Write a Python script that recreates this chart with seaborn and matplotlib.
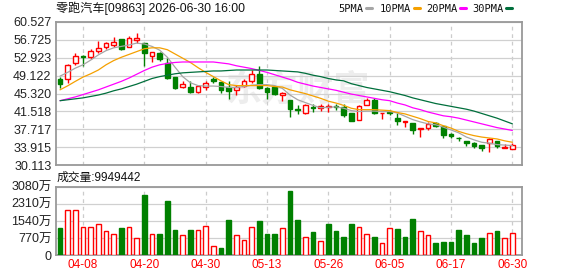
import numpy as np
import matplotlib
matplotlib.use("Agg")
import matplotlib.pyplot as plt
from matplotlib.lines import Line2D
import seaborn as sns

# Daily K-line for 零跑汽车 (09863), 60 trading days
dates = ["03-31", "04-01", "04-02", "04-08", "04-09", "04-10", "04-13", "04-14", "04-15", "04-16",
         "04-17", "04-20", "04-21", "04-22", "04-23", "04-24", "04-27", "04-28", "04-29", "04-30",
         "05-04", "05-05", "05-06", "05-07", "05-08", "05-11", "05-12", "05-13", "05-14", "05-15",
         "05-18", "05-19", "05-20", "05-21", "05-22", "05-26", "05-27", "05-28", "05-29", "06-01",
         "06-02", "06-03", "06-04", "06-05", "06-08", "06-09", "06-10", "06-11", "06-12", "06-15",
         "06-16", "06-17", "06-18", "06-22", "06-23", "06-24", "06-25", "06-26", "06-29", "06-30"]

opens = [48.4, 48.4, 51.7, 53.3, 53.1, 54.4, 55.25, 55.5, 56.8, 55.25,
         56.7, 56.0, 53.3, 53.85, 51.7, 48.8, 46.7, 46.8, 45.7, 46.7,
         48.4, 47.7, 46.8, 46.0, 46.95, 47.9, 49.5, 46.5, 46.8, 45.05,
         44.0, 42.0, 41.2, 42.4, 42.3, 42.4, 42.6, 42.4, 41.2, 39.8,
         42.9, 44.0, 41.1, 41.5, 40.1, 39.2, 39.1, 37.8, 38.0, 39.1,
         38.5, 36.75, 35.95, 35.3, 34.84, 34.48, 34.84, 35.18, 33.8, 33.6]
highs = [48.9, 51.5, 53.8, 53.4, 54.7, 56.5, 56.3, 57.2, 56.9, 57.4,
         58.1, 56.0, 54.1, 54.1, 52.8, 48.8, 47.9, 48.0, 47.2, 47.9,
         48.9, 47.7, 47.9, 47.2, 48.3, 50.3, 51.1, 46.6, 47.0, 45.7,
         44.0, 42.8, 43.0, 43.2, 43.2, 43.0, 43.0, 43.1, 41.2, 42.9,
         44.35, 44.3, 41.3, 41.9, 41.2, 39.4, 39.1, 38.1, 39.2, 39.3,
         38.5, 37.0, 36.2, 35.3, 34.97, 34.5, 35.9, 35.2, 34.6, 34.8]
lows = [46.5, 47.5, 51.4, 51.2, 52.6, 53.9, 54.7, 55.25, 54.5, 55.1,
        56.1, 51.2, 52.1, 52.2, 48.4, 46.2, 46.5, 45.5, 45.5, 46.1,
        47.5, 45.5, 44.1, 45.0, 46.7, 47.5, 46.2, 44.1, 45.0, 43.8,
        40.3, 41.0, 40.9, 41.5, 41.7, 41.5, 41.9, 40.4, 39.4, 39.8,
        42.9, 40.9, 39.9, 40.8, 38.7, 38.3, 36.75, 36.2, 37.6, 38.3,
        36.0, 36.0, 35.2, 34.3, 33.8, 33.2, 32.9, 33.8, 33.8, 33.6]
closes = [47.3, 51.4, 53.3, 53.0, 54.3, 55.0, 56.1, 56.3, 54.7, 57.15,
          57.0, 54.0, 54.1, 52.65, 48.6, 46.5, 47.3, 45.7, 46.95, 47.5,
          47.9, 46.0, 45.95, 46.8, 48.0, 49.5, 46.5, 45.7, 45.2, 45.4,
          42.0, 41.8, 42.8, 42.2, 42.7, 42.6, 42.4, 40.8, 39.4, 42.7,
          44.0, 41.2, 41.3, 41.3, 39.4, 39.4, 37.5, 38.0, 38.9, 38.5,
          36.6, 36.24, 35.85, 34.84, 34.3, 33.8, 35.75, 34.13, 33.9, 34.35]

ma5 = [49.0, 49.8, 50.7, 51.4, 52.4, 53.5, 54.4, 55.0, 55.3, 55.6,
       56.0, 55.8, 55.3, 54.5, 53.0, 50.9, 48.9, 47.6, 47.0, 46.9,
       46.9, 46.8, 46.6, 46.6, 46.8, 47.1, 47.2, 47.2, 47.0, 46.4,
       45.0, 44.0, 43.4, 42.8, 42.3, 42.4, 42.5, 42.2, 41.7, 41.5,
       41.6, 41.6, 41.5, 41.5, 41.2, 40.5, 39.8, 39.3, 38.9, 38.7,
       38.2, 37.6, 37.0, 36.1, 35.5, 35.0, 34.8, 34.5, 34.4, 34.3]
ma10 = [46.1, 46.95, 47.9, 48.8, 49.5, 50.3, 51.4, 52.3, 53.0, 53.6,
        54.2, 54.8, 55.0, 55.0, 54.6, 53.7, 52.8, 51.9, 50.8, 49.8,
        48.9, 48.0, 47.2, 47.0, 47.0, 47.0, 47.0, 47.0, 46.8, 46.7,
        46.1, 45.7, 45.3, 44.8, 44.3, 43.7, 43.3, 42.8, 42.2, 41.9,
        41.9, 41.9, 41.8, 41.7, 41.3, 41.0, 40.5, 40.0, 39.4, 39.1,
        38.5, 38.0, 37.3, 36.8, 36.4, 36.1, 35.9, 35.7, 35.3, 35.0]
ma20 = [43.8, 44.2, 44.6, 45.1, 45.6, 46.1, 46.7, 47.3, 47.9, 48.6,
        49.4, 50.2, 50.9, 51.4, 51.7, 51.9, 52.0, 52.0, 52.0, 52.0,
        52.0, 51.8, 51.6, 51.2, 50.9, 50.6, 50.2, 49.8, 49.3, 48.8,
        48.3, 47.7, 47.3, 46.9, 46.6, 46.3, 46.0, 45.6, 45.2, 44.9,
        44.6, 44.3, 44.0, 43.8, 43.3, 42.9, 42.3, 41.9, 41.4, 41.0,
        40.6, 40.4, 40.1, 39.7, 39.3, 38.9, 38.5, 38.1, 37.8, 37.5]
ma30 = [43.8, 44.0, 44.2, 44.4, 44.7, 45.0, 45.4, 45.9, 46.3, 46.8,
        47.3, 47.9, 48.5, 48.9, 49.2, 49.5, 49.7, 49.8, 49.9, 50.0,
        50.1, 50.1, 50.2, 50.3, 50.3, 50.3, 50.3, 50.3, 50.2, 50.1,
        50.0, 49.9, 49.6, 49.2, 48.9, 48.5, 48.2, 48.0, 47.4, 47.0,
        46.6, 46.3, 46.0, 45.7, 45.3, 44.9, 44.4, 44.0, 43.6, 43.2,
        42.9, 42.6, 42.3, 42.0, 41.6, 41.1, 40.6, 40.1, 39.5, 38.9]

# volume in 万股, and bar colour (R = up, G = down)
volume = [1238, 2032, 2032, 1256, 1256, 1390, 1090, 942, 1238, 1256,
          762, 2704, 942, 942, 2435, 1135, 897, 1135, 1135, 1314,
          404, 341, 1583, 897, 686, 1256, 1538, 942, 942, 1211,
          2884, 1583, 807, 1045, 641, 1404, 1090, 807, 1404, 1256,
          942, 807, 538, 1211, 1179, 807, 1628, 1090, 897, 538,
          596, 596, 1135, 911, 538, 762, 987, 1090, 762, 995]
vol_dir = "GRRRRRRRGR" "RGRGGGRGRR" "RGGRRRGGGR" "GGRGRGGGGR" "RGRRGGGRRG" "GGGGGGRGRR"

price_ticks = [30.113, 33.915, 37.717, 41.518, 45.320, 49.122, 52.923, 56.725, 60.527]
vol_ticks = [0, 770, 1540, 2310, 3080]
vol_tick_labels = ["0", "770万", "1540万", "2310万", "3080万"]
last_volume = 9949442
title = "零跑汽车[09863] 2026-06-30 16:00"
ma_names = ["5PMA", "10PMA", "20PMA", "30PMA"]
ma_colors = ["#a6a6a6", "#f5a000", "#ff00ff", "#006f3c"]

RED = "#ff0000"
GREEN = "#008000"

sns.set_theme(style="white")
plt.rcParams["font.family"] = ["Liberation Sans", "Noto Sans CJK SC"]

W, H = 578, 276
fig = plt.figure(figsize=(W / 100, H / 100), dpi=100)
ax = fig.add_axes([0.0964, 0.401, 0.8073, 0.5203])
axv = fig.add_axes([0.0964, 0.075, 0.8073, 0.2486])

x = np.arange(len(dates))
o = np.array(opens)
c = np.array(closes)
up = c >= o

# candles
for i in x:
    col = RED if up[i] else GREEN
    ax.vlines(i, lows[i], highs[i], color=col, lw=1, zorder=2)
    bottom = min(o[i], c[i])
    h = max(abs(c[i] - o[i]), 0.05)
    ax.bar(i, h, bottom=bottom, width=0.62, color="white" if up[i] else col,
           edgecolor=col, linewidth=1, zorder=3)

for vals, col in zip([ma5, ma10, ma20, ma30], ma_colors):
    sns.lineplot(x=x, y=vals, ax=ax, color=col, linewidth=0.9, zorder=4)

ax.text(0.52, 0.52, "东方财富", transform=ax.transAxes, ha="center", va="center",
        fontsize=26, fontweight="bold", color="#ededed", zorder=0.5)

# volume bars
for i in x:
    col = RED if vol_dir[i] == "R" else GREEN
    axv.bar(i, volume[i], width=0.62, color="white" if vol_dir[i] == "R" else col,
            edgecolor=col, linewidth=1, zorder=3)

tick_idx = x[3::8]
for a in (ax, axv):
    a.set_xlim(-0.56, 60.3)
    a.set_xticks(tick_idx)
    a.grid(False)
    a.xaxis.grid(True, color="#cccccc", linestyle=(0, (3, 3)), linewidth=0.9, zorder=0)
    a.yaxis.grid(True, color="#d0d0d0", linestyle="-", linewidth=0.9, zorder=0)
    a.set_axisbelow(True)
    for s in a.spines.values():
        s.set_color("#999999")
        s.set_linewidth(1.3)
    a.tick_params(length=0, labelsize=9, labelcolor="#222222", pad=3)
    a.set_xlabel("")
    a.set_ylabel("")

ax.set_ylim(price_ticks[0], price_ticks[-1])
ax.set_yticks(price_ticks)
ax.set_yticklabels([f"{t:.3f}" for t in price_ticks])
ax.set_xticklabels([])

axv.set_ylim(0, vol_ticks[-1])
axv.set_yticks(vol_ticks)
axv.set_yticklabels(vol_tick_labels)
axv.set_xticklabels([dates[i] for i in tick_idx], color=RED, fontsize=8.5)

fig.text(56 / W, 1 - 8.5 / H, title, fontsize=8.7, color="#111111", va="center", ha="left")
fig.text(57 / W, 1 - 178 / H, f"成交量:{last_volume}", fontsize=8.5, color="#111111",
         va="center", ha="left")

# legend row: name followed by a short colour dash
legend_text_x = [338, 380, 426, 472]
for name, col, tx in zip(ma_names, ma_colors, legend_text_x):
    t = fig.text(tx / W, 1 - 8.5 / H, name, fontsize=7.5, family="DejaVu Sans Mono",
                 color="#111111", va="center", ha="left")
    dash_x = tx + 6.2 * len(name) + 3
    fig.add_artist(Line2D([dash_x / W, (dash_x + 6) / W], [1 - 7.5 / H, 1 - 7.5 / H],
                          color=col, lw=2.2, transform=fig.transFigure))

fig.savefig("out.png", dpi=100)
